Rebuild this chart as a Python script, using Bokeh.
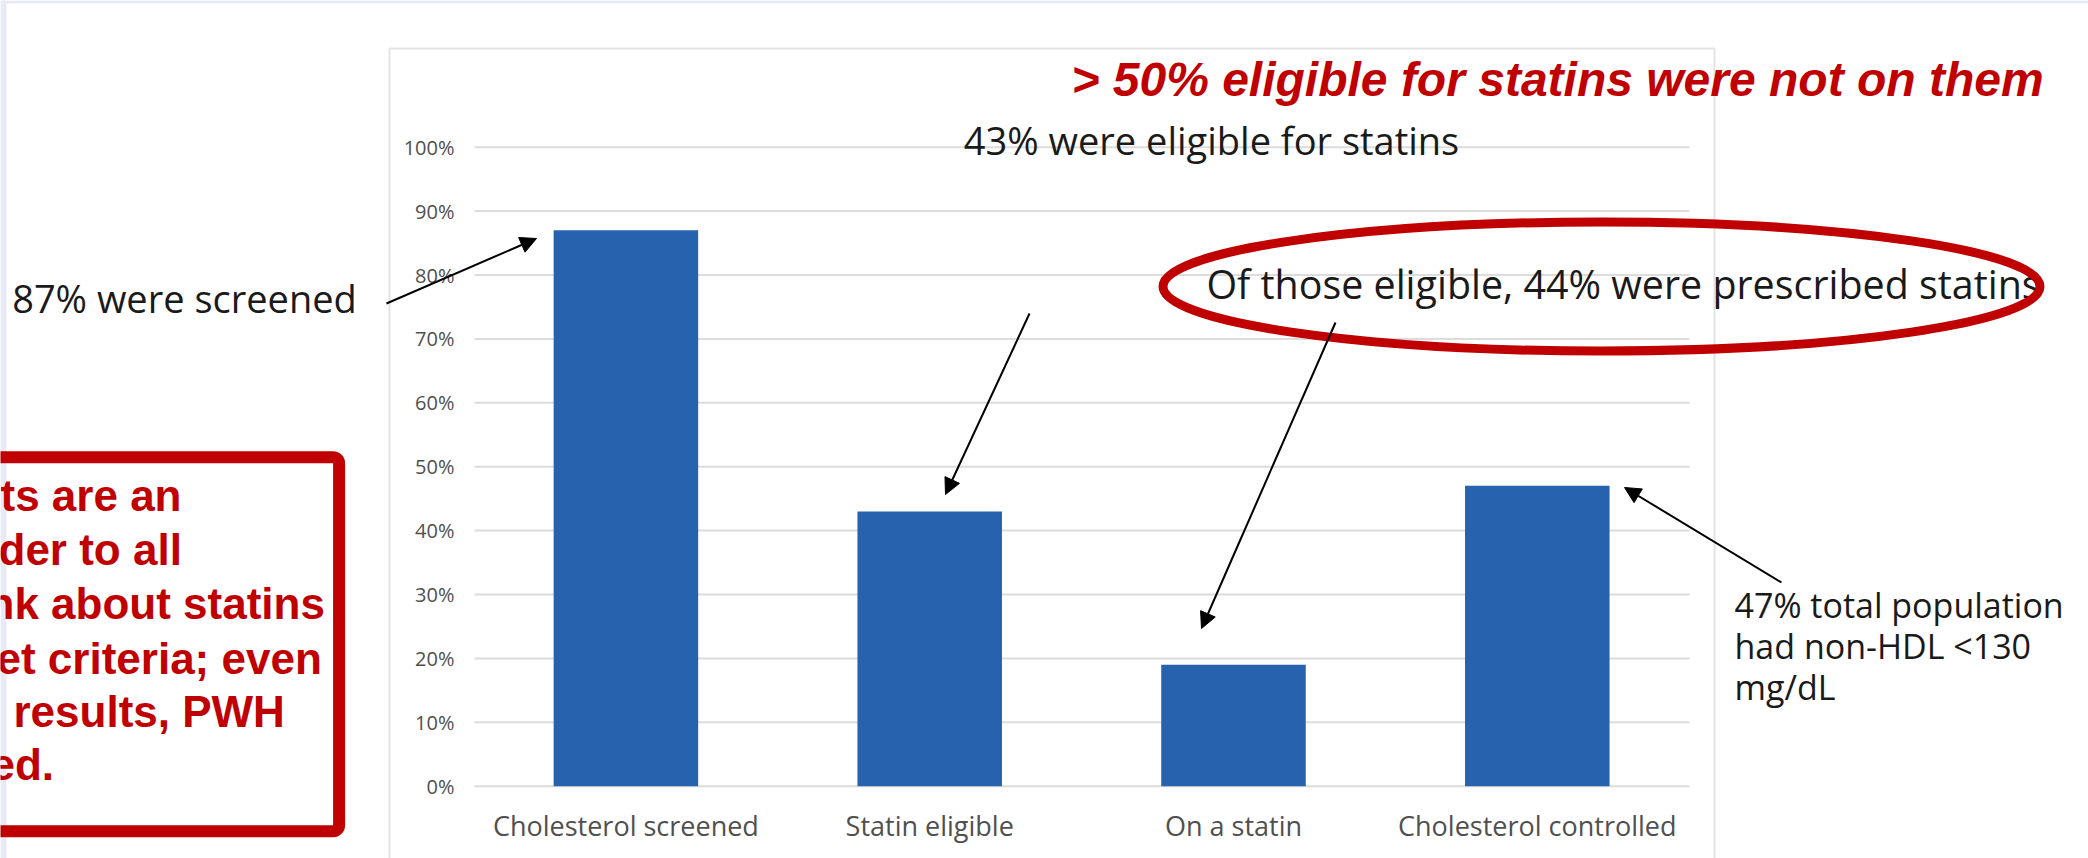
from bokeh.plotting import figure
from bokeh.models import Range1d, Arrow, NormalHead, BoxAnnotation, ColumnDataSource
from bokeh.core.properties import value
from bokeh.embed import file_html
from bokeh.resources import INLINE

# ---- data ----
categories = ["Cholesterol screened", "Statin eligible", "On a statin", "Cholesterol controlled"]
percent_values = [87, 43, 19, 47]
y_ticks = [0, 10, 20, 30, 40, 50, 60, 70, 80, 90, 100]
y_tick_labels = ["0%", "10%", "20%", "30%", "40%", "50%", "60%", "70%", "80%", "90%", "100%"]
headline = "> 50% eligible for statins were not on them"
note_eligible = "43% were eligible for statins"
note_prescribed = "Of those eligible, 44% were prescribed statins"
note_screened = "87% were screened"
note_controlled = ["47% total population", "had non-HDL <130", "mg/dL"]
box_lines = ["ts are an", "der to all", "nk about statins", "et criteria; even", "results, PWH", "ed."]

BLUE = "#2662AE"
RED = "#C00000"
GRID = "#DCDCDC"
TICK = "#505050"
INK = "#1A1A1A"
LAV = "#E8EBF7"
FONT = value("Open Sans")
FONT_B = value("Liberation Sans")

W, H = 2088, 858
# whole canvas: data units == reference pixels
p = figure(width=W, height=H, output_backend="svg", toolbar_location=None,
           x_range=Range1d(0, W), y_range=Range1d(H, 0),
           x_axis_type=None, y_axis_type=None, min_border=0)
p.outline_line_color = None
p.background_fill_color = "white"
p.border_fill_color = "white"
p.xgrid.visible = False
p.ygrid.visible = False

# bar-chart scales: y in percent, x in category index
Y0, PX_PER_PCT = 785.7, 6.39
X0, PX_PER_CAT = 625.4, 303.8
p.extra_y_ranges = {"pct": Range1d((Y0 - H) / PX_PER_PCT, (Y0 - 0) / PX_PER_PCT)}
p.extra_x_ranges = {"cat": Range1d((0 - X0) / PX_PER_CAT, (W - X0) / PX_PER_CAT)}

# slide edge tint
p.quad(left=[0, 0], right=[6, W], top=[0, 0], bottom=[H, 3],
       fill_color=LAV, line_color=None)

# chart frame
p.quad(left=[389], right=[1714], top=[48], bottom=[880], fill_color=None,
       line_color="#E3E3E3", line_width=2)

# gridlines
p.segment(x0=[474] * len(y_ticks), x1=[1689] * len(y_ticks), y0=y_ticks, y1=y_ticks,
          y_range_name="pct", line_color=GRID, line_width=2)

# tick labels
p.text(x=[454] * len(y_ticks), y=y_ticks, text=y_tick_labels, y_range_name="pct",
       text_align="right", text_baseline="middle", text_font=FONT,
       text_font_size="20px", text_color=TICK)

# bars
idx = list(range(len(categories)))
src = ColumnDataSource(dict(x=idx, top=percent_values, cat=categories))
p.vbar(x="x", top="top", bottom=0, width=0.4757, source=src,
       x_range_name="cat", y_range_name="pct", fill_color=BLUE, line_color=None)

# category labels
p.text(x="x", y=-6.2, text="cat", source=src,
       x_range_name="cat", y_range_name="pct", text_align="center",
       text_baseline="alphabetic", text_font=FONT, text_font_size="27px",
       text_color=TICK)

# annotations (pixel coordinates)
p.text(x=[1557], y=[79], text=[headline], text_align="center",
       text_baseline="alphabetic", text_font=FONT_B, text_font_style="bold italic",
       text_font_size="48px", text_color=RED)
p.text(x=[1211], y=[139], text=[note_eligible], text_align="center",
       text_baseline="alphabetic", text_font=FONT, text_font_size="38px", text_color=INK)
p.text(x=[1623], y=[283], text=[note_prescribed], text_align="center",
       text_baseline="alphabetic", text_font=FONT, text_font_size="39.4px", text_color=INK)
p.text(x=[184], y=[297], text=[note_screened], text_align="center",
       text_baseline="alphabetic", text_font=FONT, text_font_size="38px", text_color=INK)
p.text(x=[1734] * 3, y=[604, 645, 686], text=note_controlled, text_align="left",
       text_baseline="alphabetic", text_font=FONT, text_font_size="34px", text_color=INK)

# red ellipse
p.ellipse(x=[1601], y=[286], width=[877], height=[129], width_units="screen",
          height_units="screen", fill_color=None, line_color=RED, line_width=9)

# red box with clipped text
p.text(x=[0, -2, -13, -4, 13, -10], y=[495, 549, 603, 658, 711, 764], text=box_lines,
       text_align="left", text_baseline="alphabetic", text_font=FONT_B,
       text_font_style="bold", text_font_size="44px", text_color=RED)
p.add_layout(BoxAnnotation(left=-40, right=338.6, top=456.7, bottom=830.7,
                           fill_alpha=0, line_color=RED, line_alpha=1.0,
                           line_width=12, border_radius=6))

# arrows
for (xs, ys, xe, ye) in [(386, 303, 536, 238), (1029, 313, 945, 494),
                         (1335, 322, 1201, 628), (1781, 582, 1624, 487)]:
    p.add_layout(Arrow(x_start=xs, y_start=ys, x_end=xe, y_end=ye,
                       line_color="black", line_width=2,
                       end=NormalHead(size=16, fill_color="black", line_color="black")))

html = file_html(p, INLINE)
style = "<style>html,body{margin:0 !important;padding:0 !important;}</style>"
html = html.replace("</head>", style + "</head>", 1)
open("out.html", "w").write(html)
